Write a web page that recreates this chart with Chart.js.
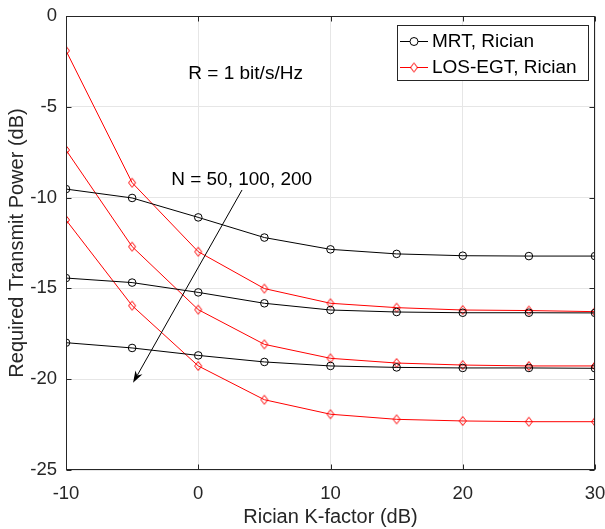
<!DOCTYPE html>
<html>
<head>
<meta charset="utf-8">
<script src="https://cdn.jsdelivr.net/npm/chart.js@4/dist/chart.umd.min.js"></script>
<style>
  html, body { margin: 0; padding: 0; background: #fff; }
  #wrap { width: 605px; height: 529px; }
</style>
</head>
<body>
<div id="wrap"><canvas id="powerChart" width="605" height="529"></canvas></div>
<script>
// Rician K-factor sweep (dB)
const kFactor = [-10, -5, 0, 5, 10, 15, 20, 25, 30];

// Required transmit power (dB), MRT
const mrtN50 = [-9.53, -10.02, -11.09, -12.2, -12.85, -13.1, -13.2, -13.22, -13.22];
const mrtN100 = [-14.43, -14.68, -15.22, -15.82, -16.19, -16.3, -16.34, -16.34, -16.35];
const mrtN200 = [-17.99, -18.28, -18.69, -19.05, -19.27, -19.35, -19.38, -19.38, -19.4];

// Required transmit power (dB), LOS-EGT
const egtN50 = [-1.91, -9.18, -12.98, -15.01, -15.82, -16.06, -16.19, -16.22, -16.28];
const egtN100 = [-7.38, -12.7, -16.17, -18.08, -18.85, -19.11, -19.22, -19.27, -19.27];
const egtN200 = [-11.23, -15.95, -19.27, -21.13, -21.93, -22.21, -22.3, -22.34, -22.34];

const seriesNames = ["MRT, Rician", "LOS-EGT, Rician"];
const xTicks = [-10, 0, 10, 20, 30];
const yTicks = [-25, -20, -15, -10, -5, 0];

const FONT = "'Liberation Sans', Arial, Helvetica, sans-serif";
const AXIS = "#262626";
const GRID = "#e6e6e6";

// hollow red diamond, a bit taller than wide
function makeDiamond() {
  const c = document.createElement("canvas");
  c.width = 10;
  c.height = 12;
  const g = c.getContext("2d");
  g.strokeStyle = "#ff0000";
  g.lineWidth = 1;
  g.beginPath();
  g.moveTo(5, 1.5);
  g.lineTo(8.5, 6);
  g.lineTo(5, 10.5);
  g.lineTo(1.5, 6);
  g.closePath();
  g.stroke();
  return c;
}
const diamond = makeDiamond();

function toPoints(ys) {
  return kFactor.map((k, i) => ({ x: k, y: ys[i] }));
}

function mrtSet(ys) {
  return {
    label: seriesNames[0],
    data: toPoints(ys),
    borderColor: "#000000",
    backgroundColor: "rgba(0,0,0,0)",
    borderWidth: 1,
    pointStyle: "circle",
    pointRadius: 3.8,
    pointBorderWidth: 1,
    pointBorderColor: "#000000",
    pointBackgroundColor: "rgba(0,0,0,0)",
  };
}

function egtSet(ys) {
  return {
    label: seriesNames[1],
    data: toPoints(ys),
    borderColor: "#ff0000",
    backgroundColor: "rgba(0,0,0,0)",
    borderWidth: 1,
    pointStyle: diamond,
    pointRadius: 5,
  };
}

// axes box, inward ticks, text notes, arrow and legend
const framePlugin = {
  id: "frame",
  afterDatasetsDraw(chart) {
    const { ctx, chartArea: a, scales: { x, y } } = chart;
    ctx.save();

    // notes
    ctx.fillStyle = "#000";
    ctx.font = "19px " + FONT;
    ctx.textAlign = "left";
    ctx.textBaseline = "middle";
    ctx.fillText("R = 1 bit/s/Hz", x.getPixelForValue(-0.75), y.getPixelForValue(-3.2));
    ctx.fillText("N = 50, 100, 200", x.getPixelForValue(-2.05), y.getPixelForValue(-9.0));

    // arrow pointing towards larger N
    const x0 = x.getPixelForValue(3.31), y0 = y.getPixelForValue(-9.58);
    const x1 = x.getPixelForValue(-4.93), y1 = y.getPixelForValue(-20.2);
    const ang = Math.atan2(y1 - y0, x1 - x0);
    const headLen = 12, headHalf = 4;
    ctx.strokeStyle = "#000";
    ctx.lineWidth = 1;
    ctx.beginPath();
    ctx.moveTo(x0, y0);
    ctx.lineTo(x1 - Math.cos(ang) * headLen * 0.7, y1 - Math.sin(ang) * headLen * 0.7);
    ctx.stroke();
    ctx.beginPath();
    ctx.moveTo(x1, y1);
    const bx = x1 - Math.cos(ang) * headLen, by = y1 - Math.sin(ang) * headLen;
    ctx.lineTo(bx + Math.sin(ang) * headHalf, by - Math.cos(ang) * headHalf);
    ctx.lineTo(x1 - Math.cos(ang) * headLen * 0.7, y1 - Math.sin(ang) * headLen * 0.7);
    ctx.lineTo(bx - Math.sin(ang) * headHalf, by + Math.cos(ang) * headHalf);
    ctx.closePath();
    ctx.fillStyle = "#000";
    ctx.fill();

    // box
    const L = Math.round(a.left) + 0.5, R = Math.round(a.right) - 0.5;
    const T = Math.round(a.top) + 0.5, B = Math.round(a.bottom) - 0.5;
    ctx.strokeStyle = AXIS;
    ctx.lineWidth = 1;
    ctx.strokeRect(L, T, R - L, B - T);

    // inward ticks
    const tl = 5;
    ctx.beginPath();
    xTicks.forEach(v => {
      const px = Math.round(x.getPixelForValue(v)) + 0.5;
      ctx.moveTo(px, B); ctx.lineTo(px, B - tl);
      ctx.moveTo(px, T); ctx.lineTo(px, T + tl);
    });
    yTicks.forEach(v => {
      const py = Math.round(y.getPixelForValue(v)) + 0.5;
      ctx.moveTo(L, py); ctx.lineTo(L + tl, py);
      ctx.moveTo(R, py); ctx.lineTo(R - tl, py);
    });
    ctx.stroke();

    // legend
    const lx = 397.5, ly = 25.5, lw = 191, lh = 55;
    ctx.fillStyle = "#fff";
    ctx.fillRect(lx, ly, lw, lh);
    ctx.strokeStyle = AXIS;
    ctx.strokeRect(lx, ly, lw, lh);
    const rows = [
      { name: seriesNames[0], color: "#000000", marker: "circle", cy: 41 },
      { name: seriesNames[1], color: "#ff0000", marker: "diamond", cy: 67 },
    ];
    rows.forEach(r => {
      ctx.strokeStyle = r.color;
      ctx.beginPath();
      ctx.moveTo(400, r.cy + 0.5);
      ctx.lineTo(428, r.cy + 0.5);
      ctx.stroke();
      if (r.marker === "circle") {
        ctx.fillStyle = "#fff";
        ctx.beginPath();
        ctx.arc(414, r.cy + 0.5, 4, 0, Math.PI * 2);
        ctx.fill();
        ctx.stroke();
      } else {
        ctx.fillStyle = "#fff";
        ctx.fillRect(411, r.cy - 3, 6, 7);
        ctx.drawImage(diamond, 409, r.cy - 5.5);
      }
      ctx.fillStyle = "#000";
      ctx.font = "19px " + FONT;
      ctx.textAlign = "left";
      ctx.textBaseline = "middle";
      ctx.fillText(r.name, 432, r.cy + 1);
    });

    ctx.restore();
  },
};

document.addEventListener("DOMContentLoaded", () => {
  const ctx = document.getElementById("powerChart").getContext("2d");
  new Chart(ctx, {
    type: "line",
    data: {
      datasets: [
        mrtSet(mrtN50),
        mrtSet(mrtN100),
        mrtSet(mrtN200),
        egtSet(egtN50),
        egtSet(egtN100),
        egtSet(egtN200),
      ],
    },
    options: {
      responsive: false,
      animation: false,
      devicePixelRatio: 1,
      layout: { padding: { left: 0, top: 16, right: 10, bottom: 0 } },
      plugins: {
        legend: { display: false },
        tooltip: { enabled: false },
      },
      elements: { line: { tension: 0 } },
      scales: {
        x: {
          type: "linear",
          min: -10,
          max: 30,
          afterFit(scale) {
            scale.height = 59;
            // let the end labels overhang instead of shrinking the plot
            scale.paddingLeft = 0;
            scale.paddingRight = 0;
          },
          afterBuildTicks(scale) { scale.ticks = xTicks.map(v => ({ value: v })); },
          grid: { color: GRID, lineWidth: 1, drawTicks: false },
          border: { display: false },
          ticks: {
            color: AXIS,
            padding: 13,
            maxRotation: 0,
            font: { family: FONT, size: 18.5 },
          },
          title: {
            display: true,
            text: "Rician K-factor (dB)",
            color: AXIS,
            padding: { top: 0, bottom: 0 },
            font: { family: FONT, size: 20 },
          },
        },
        y: {
          type: "linear",
          min: -25,
          max: 0,
          afterFit(scale) {
            scale.width = 66;
            scale.paddingTop = 0;
            scale.paddingBottom = 0;
          },
          afterBuildTicks(scale) { scale.ticks = yTicks.map(v => ({ value: v })); },
          grid: { color: GRID, lineWidth: 1, drawTicks: false },
          border: { display: false },
          ticks: {
            color: AXIS,
            padding: 9,
            font: { family: FONT, size: 18.5 },
          },
          title: {
            display: true,
            text: "Required Transmit Power (dB)",
            color: AXIS,
            padding: { top: 5, bottom: 0 },
            font: { family: FONT, size: 20 },
          },
        },
      },
    },
    plugins: [framePlugin],
  });
});
</script>
</body>
</html>
